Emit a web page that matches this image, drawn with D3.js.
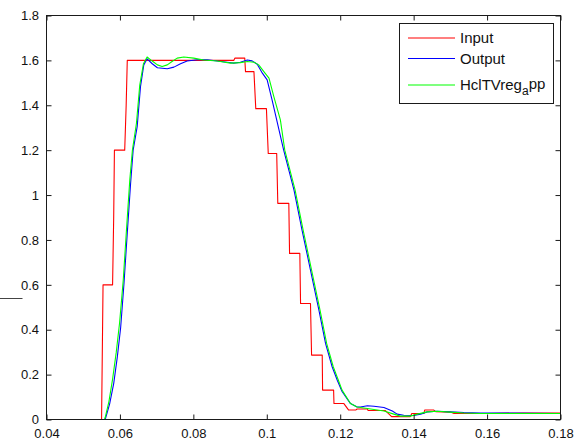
<!DOCTYPE html>
<html><head><meta charset="utf-8">
<script src="https://cdn.jsdelivr.net/npm/d3@7"></script>
<style>
body{margin:0;background:#fff;}
svg{display:block;}
text{font-family:"Liberation Sans",Arial,Helvetica,sans-serif;}
</style>
</head><body>
<svg id="chart" width="576" height="441"></svg>
<script>
// ---- data ----
const xTicks = [0.04,0.06,0.08,0.1,0.12,0.14,0.16,0.18];
const xTickLabels = ["0.04","0.06","0.08","0.1","0.12","0.14","0.16","0.18"];
const yTicks = [0,0.2,0.4,0.6,0.8,1,1.2,1.4,1.6,1.8];
const yTickLabels = ["0","0.2","0.4","0.6","0.8","1","1.2","1.4","1.6","1.8"];
const seriesNames = ["Input","Output","HclTVreg"];
const seriesSub = ["","","a"];
const seriesSuffix = ["","","pp"];
const seriesColors = ["#ff0000","#0000ff","#00ff00"];

const inputX = [0.040,0.0550,0.0552,0.0554,0.0580,0.0583,0.0585,0.0613,0.0617,0.0620,0.0910,0.0913,0.0940,0.0942,0.0965,0.0970,0.0999,0.1004,0.1027,0.1030,0.1060,0.1062,0.1090,0.1092,0.1119,0.1122,0.1151,0.1152,0.1182,0.1183,0.1210,0.1223,0.1242,0.1246,0.1274,0.1276,0.1323,0.1340,0.1391,0.1395,0.1428,0.1430,0.1455,0.1460,0.1500,0.1510,0.1540,0.1600,0.1700,0.1800];
const inputY = [0,0,0.30,0.60,0.60,0.90,1.20,1.20,1.40,1.60,1.60,1.61,1.61,1.55,1.55,1.385,1.385,1.185,1.185,0.963,0.963,0.740,0.740,0.517,0.517,0.287,0.287,0.131,0.131,0.071,0.071,0.042,0.042,0.047,0.047,0.040,0.040,0.013,0.013,0.027,0.027,0.042,0.042,0.035,0.033,0.027,0.027,0.027,0.029,0.029];

const outputX = [0.040,0.0560,0.0561,0.0572,0.0583,0.0593,0.0602,0.0611,0.0620,0.0629,0.0636,0.0647,0.0656,0.0665,0.0674,0.0688,0.0702,0.0729,0.0747,0.0765,0.0783,0.0811,0.0838,0.0865,0.0892,0.0910,0.0928,0.0947,0.0960,0.0974,0.0988,0.1001,0.1015,0.1046,0.1074,0.1096,0.1119,0.1142,0.1160,0.1178,0.1192,0.1205,0.1228,0.1246,0.1255,0.1274,0.1292,0.1319,0.1342,0.1355,0.1373,0.1400,0.1419,0.1437,0.1464,0.1500,0.1537,0.1582,0.1600,0.1800];
const outputY = [0,0,0.006,0.07,0.16,0.28,0.41,0.605,0.83,1.05,1.20,1.305,1.483,1.58,1.607,1.585,1.567,1.563,1.570,1.585,1.597,1.603,1.603,1.597,1.592,1.588,1.592,1.602,1.598,1.583,1.543,1.513,1.42,1.20,1.023,0.844,0.666,0.4875,0.339,0.235,0.175,0.125,0.071,0.056,0.056,0.061,0.059,0.0535,0.038,0.024,0.019,0.018,0.024,0.034,0.037,0.034,0.031,0.029,0.029,0.027];

const hclX = [0.040,0.0558,0.0560,0.0570,0.0580,0.0590,0.0599,0.0609,0.0618,0.0627,0.0634,0.0645,0.0654,0.0664,0.0674,0.0688,0.0702,0.0715,0.0729,0.0742,0.0756,0.0774,0.0801,0.0828,0.0865,0.0901,0.0928,0.0947,0.0965,0.0978,0.0992,0.1006,0.1019,0.1037,0.1049,0.1077,0.1099,0.1122,0.1145,0.1163,0.1181,0.1195,0.1205,0.1228,0.1246,0.1274,0.1319,0.1346,0.1364,0.1391,0.1410,0.1437,0.1464,0.1500,0.1537,0.1582,0.1800];
const hclY = [0,0,0.01,0.08,0.18,0.30,0.43,0.62,0.85,1.07,1.20,1.32,1.49,1.585,1.615,1.597,1.580,1.573,1.580,1.595,1.610,1.615,1.610,1.602,1.597,1.588,1.590,1.595,1.592,1.580,1.550,1.521,1.44,1.335,1.20,1.023,0.844,0.666,0.4875,0.339,0.235,0.175,0.131,0.071,0.056,0.049,0.038,0.024,0.015,0.015,0.024,0.034,0.037,0.033,0.029,0.027,0.027];

// ---- chart ----
const svg = d3.select("#chart");
const L = 46.5, R = 560.5, T = 15.5, B = 419.5;
const x = d3.scaleLinear().domain([0.04,0.18]).range([L,R]);
const y = d3.scaleLinear().domain([0,1.8]).range([B,T]);
const axisColor = "#1a1a1a";

svg.append("rect").attr("width",576).attr("height",441).attr("fill","#fff");

svg.append("clipPath").attr("id","clip").append("rect")
  .attr("x",L).attr("y",T-2).attr("width",R-L).attr("height",B-T+2);

const series = [
  {x: inputX, y: inputY},
  {x: outputX, y: outputY},
  {x: hclX, y: hclY}
];
const line = d3.line().x(d=>x(d[0])).y(d=>y(d[1]));
const g = svg.append("g").attr("clip-path","url(#clip)");
series.forEach((s,i)=>{
  const pts = s.x.map((v,j)=>[v,s.y[j]]);
  g.append("path").datum(pts).attr("d",line)
    .attr("fill","none").attr("stroke",seriesColors[i]).attr("stroke-width",1.1)
    .attr("stroke-linejoin","round");
});

function styleAxis(sel){
  sel.select(".domain").remove();
  sel.selectAll("line").attr("stroke",axisColor);
  sel.selectAll("text").attr("fill","#111").style("font-size","13px")
     .style("font-family","'Liberation Sans',Arial,sans-serif");
}
const xb = svg.append("g").attr("transform",`translate(0,${B})`)
  .call(d3.axisBottom(x).tickValues(xTicks).tickFormat((d,i)=>xTickLabels[i]).tickSizeInner(-5).tickSizeOuter(0).tickPadding(9));
styleAxis(xb);
const xt = svg.append("g").attr("transform",`translate(0,${T})`)
  .call(d3.axisTop(x).tickValues(xTicks).tickFormat("").tickSizeInner(-5).tickSizeOuter(0));
styleAxis(xt);
const yl = svg.append("g").attr("transform",`translate(${L},0)`)
  .call(d3.axisLeft(y).tickValues(yTicks).tickFormat((d,i)=>yTickLabels[i]).tickSizeInner(-5).tickSizeOuter(0).tickPadding(7.5));
styleAxis(yl);
const yr = svg.append("g").attr("transform",`translate(${R},0)`)
  .call(d3.axisRight(y).tickValues(yTicks).tickFormat("").tickSizeInner(-5).tickSizeOuter(0));
styleAxis(yr);

svg.append("rect").attr("x",L).attr("y",T).attr("width",R-L).attr("height",B-T)
  .attr("fill","none").attr("stroke",axisColor).attr("stroke-width",1);

svg.append("line").attr("x1",0).attr("x2",22.5).attr("y1",298.5).attr("y2",298.5)
  .attr("stroke","#444").attr("stroke-width",1);

const lg = svg.append("g");
lg.append("rect").attr("x",399.5).attr("y",23.5).attr("width",154).attr("height",80)
  .attr("fill","#fff").attr("stroke",axisColor).attr("stroke-width",1);
const rowY = [38, 58.5, 85];
seriesNames.forEach((n,i)=>{
  lg.append("line").attr("x1",408).attr("x2",455).attr("y1",rowY[i]).attr("y2",rowY[i])
    .attr("stroke",seriesColors[i]).attr("stroke-width",1.1);
  const t = lg.append("text").attr("x",460).attr("y",rowY[i]).attr("dy","0.36em")
    .style("font-size","15px").attr("fill","#111");
  t.append("tspan").text(n);
  if (seriesSub[i]) {
    t.append("tspan").attr("dy","0.35em").style("font-size","12px").text(seriesSub[i]);
    t.append("tspan").attr("dy","-0.35em").text(seriesSuffix[i]);
  }
});
</script>
</body></html>
